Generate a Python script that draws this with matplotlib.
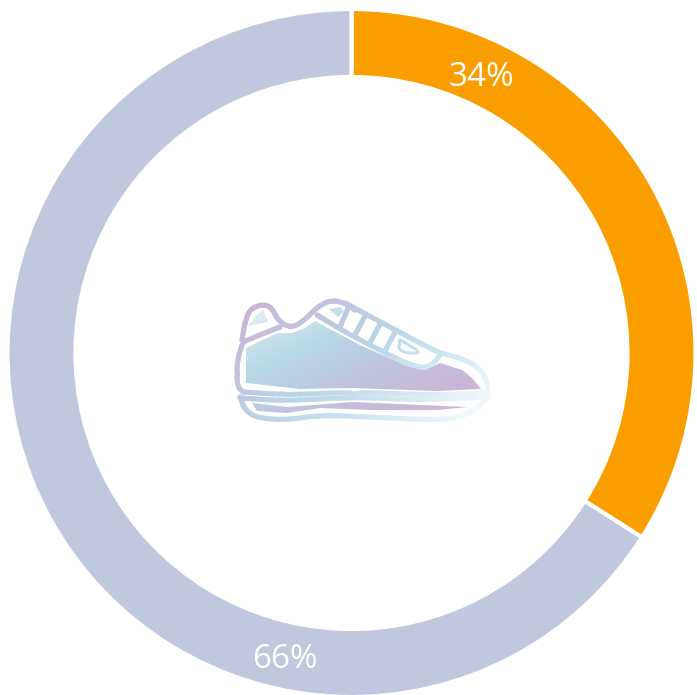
import matplotlib
matplotlib.use('Agg')
import matplotlib.pyplot as plt
from matplotlib.collections import LineCollection
from matplotlib.colors import LinearSegmentedColormap
from matplotlib.patches import Polygon
import numpy as np

labels = ['34%', '66%']
values = [34, 66]
colors = ['#FA9E00', '#C1C8DE']

plt.rcParams['font.family'] = ['Open Sans', 'DejaVu Sans']

W, H = 697, 695
fig = plt.figure(figsize=(W / 100, H / 100), dpi=100)

# donut axes, y goes up so the pie keeps its direction
ax_pie = fig.add_axes([0, 0, 1, 1])
cx, cy, R = 351.5, 353, 344
ax_pie.pie(values, colors=colors, startangle=90, counterclock=False,
           center=(cx, H - cy), radius=R, frame=True,
           wedgeprops=dict(width=68, edgecolor='white', linewidth=3))
ax_pie.set_xlim(0, W)
ax_pie.set_ylim(0, H)
ax_pie.set_aspect('equal')
ax_pie.axis('off')

# everything else in pixel coordinates, y down
ax = fig.add_axes([0, 0, 1, 1])
ax.patch.set_alpha(0)
ax.axis('off')

ax.text(481, 77, labels[0], color='white', fontsize=24, ha='center', va='center')
ax.text(285, 659, labels[1], color='white', fontsize=24, ha='center', va='center')

stroke_cmap = LinearSegmentedColormap.from_list(
    'stroke', [(0, '#CBB0D6'), (0.5, '#B9D6E7'), (0.78, '#D5EAF3'), (1, '#F2F9FB')])
fill_cmap = LinearSegmentedColormap.from_list(
    'fill', [(0, '#DCE9F2'), (0.3, '#B7D9E6'), (0.65, '#BFC5DD'), (1, '#CBB6D8')])


def smooth(points, n=3):
    pts = np.array(points, dtype=float)
    for _ in range(n):
        q = 0.75 * pts[:-1] + 0.25 * pts[1:]
        r = 0.25 * pts[:-1] + 0.75 * pts[1:]
        mid = np.empty((2 * len(q), 2))
        mid[0::2] = q
        mid[1::2] = r
        pts = np.vstack([pts[0], mid, pts[-1]])
    return pts


def stroke(points, lw=3.6):
    pts = smooth(points)
    t = ((pts[:, 0] - 240) * 0.6 + (pts[:, 1] - 300) * 0.8) / 230
    segs = np.stack([pts[:-1], pts[1:]], axis=1)
    lc = LineCollection(segs, colors=stroke_cmap(np.clip(t[:-1], 0, 1)), linewidths=lw,
                        capstyle='round', zorder=3)
    ax.add_collection(lc)


def fill(points):
    patch = Polygon(np.array(points, dtype=float), closed=True, fc='none', ec='none')
    ax.add_patch(patch)
    xx, yy = np.meshgrid(np.linspace(235, 490, 256), np.linspace(300, 420, 128))
    grad = ((xx - 245) * 0.42 + (yy - 325) * 0.9) / 145
    im = ax.imshow(grad, extent=(235, 490, 420, 300), cmap=fill_cmap, vmin=0, vmax=1,
                   aspect='auto', zorder=2, interpolation='bilinear')
    im.set_clip_path(patch)


# shoe fills
fill([(246, 348), (262, 340), (278, 333), (292, 333), (305, 328), (315, 321), (360, 345),
      (407, 366), (425, 370), (440, 363), (462, 370), (472, 378), (481, 389),
      (437, 391), (353, 388), (300, 389), (246, 383), (246, 348)])
fill([(248, 326), (256, 316), (263, 310), (268, 322)])
fill([(252, 403), (287, 407), (353, 402), (420, 405), (468, 407), (437, 410),
      (370, 410), (320, 408), (287, 413), (257, 411)])
fill([(329, 309), (340, 307), (344, 311), (338, 317)])

# heel and collar
stroke([(242, 340), (245, 322), (250, 309), (263, 304), (272, 308), (279, 322),
        (292, 328), (305, 320), (316, 308), (330, 300), (345, 303), (355, 310)])
stroke([(243, 342), (262, 334), (280, 327)])
# upper edge of the laces down to the toe
stroke([(345, 303), (390, 327), (433, 350), (441, 353)])
stroke([(441, 353), (467, 360), (482, 371), (488, 384), (487, 394)])
# lower edge of the laces
stroke([(317, 315), (350, 335), (417, 369), (433, 365), (441, 353)])
# lace bars
stroke([(349, 306), (340, 327)])
stroke([(366, 314), (355, 335)])
stroke([(381, 322), (370, 343)])
stroke([(396, 330), (385, 351)])
stroke([(400, 340), (398, 352), (424, 354), (402, 341)], lw=2)
# back and sole lines
stroke([(242, 345), (237, 362), (237, 386), (243, 392)])
stroke([(243, 392), (287, 395), (353, 392), (437, 395), (487, 393)])
stroke([(240, 398), (287, 401), (353, 397), (420, 400), (487, 397)])
stroke([(240, 397), (245, 410), (257, 418), (287, 420), (320, 415), (370, 417),
        (433, 420), (462, 417), (480, 406), (488, 396)])

ax.set_xlim(0, W)
ax.set_ylim(H, 0)

fig.savefig('out.png', dpi=100, facecolor='white')
